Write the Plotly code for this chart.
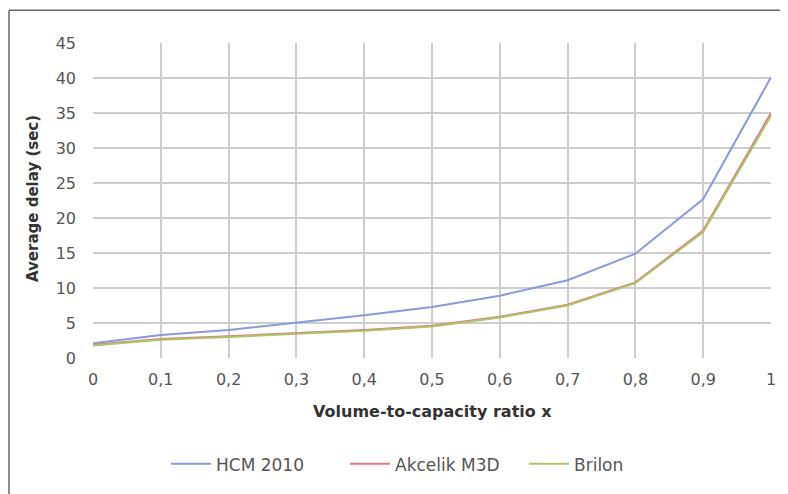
import plotly.graph_objects as go

x_ratio = [0, 0.1, 0.2, 0.3, 0.4, 0.5, 0.6, 0.7, 0.8, 0.9, 1.0]
hcm2010 = [2.1, 3.3, 4.0, 5.0, 6.1, 7.3, 8.9, 11.1, 14.9, 22.7, 40.1]
akcelik_m3d = [1.9, 2.7, 3.1, 3.5, 4.0, 4.6, 5.9, 7.6, 10.8, 18.2, 35.0]
brilon = [1.8, 2.6, 3.0, 3.4, 3.9, 4.5, 5.8, 7.5, 10.7, 18.0, 34.6]

series_names = ["HCM 2010", "Akcelik M3D", "Brilon"]
series_vals = [hcm2010, akcelik_m3d, brilon]
colors = ["#8a9bd8", "#dc7a82", "#adc46c"]

OFF = 8  # page body margin
W, H = 788 - OFF, 494 - OFF
L, R, T, B = 93 - OFF, 771 - OFF, 43 - OFF, 360 - OFF
pw, ph = R - L, B - T

fig = go.Figure()
for name, vals, c in zip(series_names, series_vals, colors):
    fig.add_trace(go.Scatter(x=x_ratio, y=vals, mode="lines", name=name,
                             line=dict(color=c, width=2)))

FAM = "DejaVu Sans, Verdana, sans-serif"


def px(xp):
    return (xp - OFF - L) / pw


def py(yp):
    return (B - (yp - OFF)) / ph


fig.update_layout(
    width=W, height=H,
    margin=dict(l=L, r=W - R, t=T, b=H - B),
    paper_bgcolor="white", plot_bgcolor="white",
    separators=", ",
    font=dict(family=FAM, size=16, color="#555555"),
    showlegend=True,
    legend=dict(orientation="h", x=px(166), xanchor="left", y=py(467), yanchor="middle",
                font=dict(family=FAM, size=17, color="#555555"),
                itemwidth=40, tracegroupgap=0, entrywidth=124, entrywidthmode="pixels"),
    xaxis=dict(range=[0, 1], dtick=0.1, tick0=0, showgrid=True, gridcolor="#cdcdcd", gridwidth=1.5,
               zeroline=False, showline=False, ticks="", ticklabelstandoff=10,
               tickfont=dict(family=FAM, size=16, color="#555555")),
    yaxis=dict(range=[0, 45], dtick=5, showgrid=True, gridcolor="#cdcdcd", gridwidth=1.5,
               zeroline=False, showline=False, ticks="", ticklabelstandoff=16,
               tickfont=dict(family=FAM, size=16, color="#555555")),
    annotations=[
        dict(text="<b>Volume-to-capacity ratio x</b>", xref="paper", yref="paper",
             x=px(432), y=py(414), showarrow=False, xanchor="center", yanchor="middle",
             font=dict(family=FAM, size=16, color="#333333")),
        dict(text="<b>Average delay (sec)</b>", xref="paper", yref="paper",
             x=px(33), y=py(200), showarrow=False, xanchor="center", yanchor="middle",
             textangle=-90, font=dict(family=FAM, size=15, color="#333333")),
    ],
    shapes=[
        dict(type="line", xref="paper", yref="paper", x0=px(9), x1=px(820), y0=py(10), y1=py(10),
             line=dict(color="#666666", width=1.5)),
        dict(type="line", xref="paper", yref="paper", x0=px(9), x1=px(9), y0=py(10), y1=py(520),
             line=dict(color="#666666", width=1.5)),
    ],
)

fig.write_html("out.html")
